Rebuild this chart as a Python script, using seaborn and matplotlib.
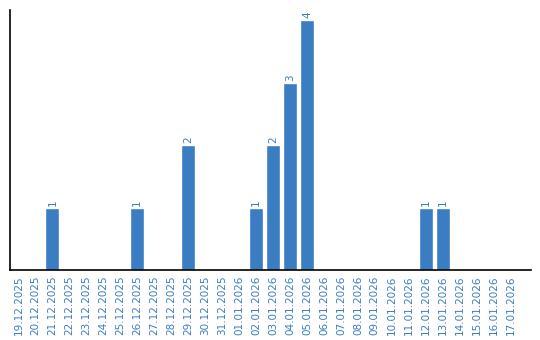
import matplotlib
matplotlib.use("Agg")
import matplotlib.pyplot as plt
import seaborn as sns
import pandas as pd

dates = ["19.12.2025", "20.12.2025", "21.12.2025", "22.12.2025", "23.12.2025",
         "24.12.2025", "25.12.2025", "26.12.2025", "27.12.2025", "28.12.2025",
         "29.12.2025", "30.12.2025", "31.12.2025", "01.01.2026", "02.01.2026",
         "03.01.2026", "04.01.2026", "05.01.2026", "06.01.2026", "07.01.2026",
         "08.01.2026", "09.01.2026", "10.01.2026", "11.01.2026", "12.01.2026",
         "13.01.2026", "14.01.2026", "15.01.2026", "16.01.2026", "17.01.2026"]
counts = [0, 0, 1, 0, 0, 0, 0, 1, 0, 0,
          2, 0, 0, 0, 1, 2, 3, 4, 0, 0,
          0, 0, 0, 0, 1, 1, 0, 0, 0, 0]

sns.set_theme(style="white")
plt.rcParams['font.family'] = ['DejaVu Sans']

color = "#3a7dc2"
df = pd.DataFrame({"date": dates, "count": counts})

fig = plt.figure(figsize=(5.4, 3.4), dpi=100)
ax = fig.add_axes([10/540, 70/340, 521/540, 260/340])
sns.barplot(data=df, x="date", y="count", color=color, saturation=1, width=0.82, ax=ax)

for i, v in enumerate(counts):
    if v > 0:
        ax.text(i, v + 0.03, str(v), rotation=90, ha="center", va="bottom",
                color=color, fontsize=7.5)

ax.set_xlim(-0.5, 30.2)
ax.set_ylim(0, 4.16)
ax.set_yticks([])
ax.set_xlabel("")
ax.set_ylabel("")
ax.tick_params(axis="x", labelrotation=90, labelsize=7.5, labelcolor=color, length=0, pad=4)
for s in ["top", "right"]:
    ax.spines[s].set_visible(False)
for s in ["left", "bottom"]:
    ax.spines[s].set_color("black")
    ax.spines[s].set_linewidth(1.2)

fig.savefig("out.png", dpi=100)
